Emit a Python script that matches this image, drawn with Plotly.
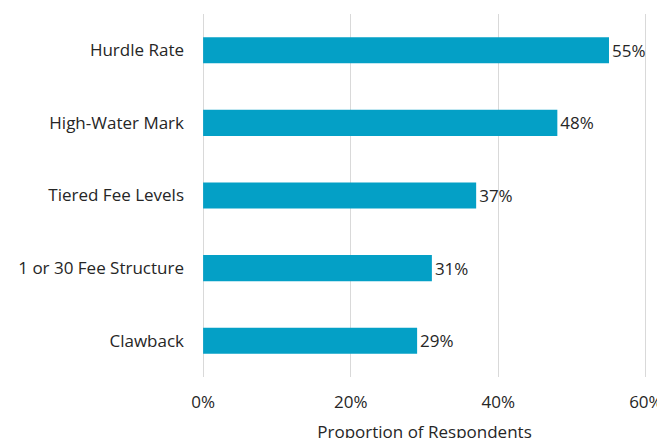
import plotly.graph_objects as go

categories = ["Hurdle Rate", "High-Water Mark", "Tiered Fee Levels", "1 or 30 Fee Structure", "Clawback"]
values = [55, 48, 37, 31, 29]
x_ticks = [0, 20, 40, 60]
x_tick_labels = ["0%", "20%", "40%", "60%"]

fig = go.Figure(go.Bar(
    y=categories,
    x=values,
    orientation="h",
    marker=dict(color="#04A0C6", line=dict(width=0)),
    text=[f"{v}%" for v in values],
    textposition="outside",
    textfont=dict(size=17, color="#262626"),
    cliponaxis=False,
))

# page body has an 8px margin, so the figure is offset by 8px left/top;
# the figure runs past the bottom of the window so the axis title is cut like the original
fig.update_layout(
    width=657, height=450,
    margin=dict(l=194, r=18, t=6, b=81),
    paper_bgcolor="white", plot_bgcolor="white",
    font=dict(family="Open Sans", size=17, color="#262626"),
    bargap=0.64,
    showlegend=False,
    xaxis=dict(
        range=[-0.15, 60.15], tickvals=x_ticks, ticktext=x_tick_labels,
        showgrid=True, gridcolor="#D9D9D9", gridwidth=1,
        zeroline=False, showline=False, ticks="",
        ticklabelstandoff=13, automargin=False,
        title=dict(text="Proportion of Respondents", standoff=14, font=dict(size=17)),
    ),
    yaxis=dict(
        autorange="reversed", showgrid=False, zeroline=False, showline=False,
        ticks="", ticklabelstandoff=17, automargin=False,
    ),
)

fig.write_html("out.html")
